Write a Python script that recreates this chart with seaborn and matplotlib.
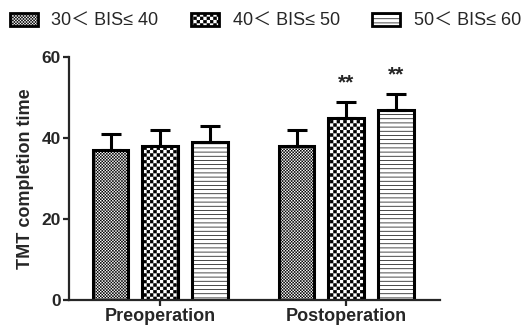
import warnings
import numpy as np
import pandas as pd
import matplotlib
matplotlib.use("Agg")
import matplotlib.pyplot as plt
import matplotlib.hatch as mhatch
from matplotlib.path import Path
from matplotlib.patches import Patch
import seaborn as sns

warnings.filterwarnings("ignore")

# data
phases = ["Preoperation", "Postoperation"]
groups = ["30＜ BIS≤ 40", "40＜ BIS≤ 50", "50＜ BIS≤ 60"]
mean_30_40 = [37, 38]
sd_30_40 = [4, 4]
mean_40_50 = [38, 45]
sd_40_50 = [4, 4]
mean_50_60 = [39, 47]
sd_50_60 = [4, 4]
stars_30_40 = ["", ""]
stars_40_50 = ["", "**"]
stars_50_60 = ["", "**"]

means = [mean_30_40, mean_40_50, mean_50_60]
sds = [sd_30_40, sd_40_50, sd_50_60]
stars = [stars_30_40, stars_40_50, stars_50_60]

df = pd.DataFrame({
    "phase": phases * 3,
    "group": [g for g in groups for _ in phases],
    "value": mean_30_40 + mean_40_50 + mean_50_60,
})

HATCH_LW = 0.5  # points


# checkerboard hatch, triggered by the letter 'c'
class CheckerHatch(mhatch.HatchPatternBase):
    def __init__(self, hatch, density):
        self.n = hatch.count("c") * density
        self.cells = [(i, j) for i in range(self.n) for j in range(self.n)
                      if (i + j) % 2 == 0]
        self.num_vertices = len(self.cells) * 5

    def set_vertices_and_codes(self, vertices, codes):
        s = 1.0 / self.n
        d = HATCH_LW / 72 / 2  # compensate the stroke around each square
        k = 0
        for i, j in self.cells:
            x0, y0 = i * s + d, j * s + d
            x1, y1 = (i + 1) * s - d, (j + 1) * s - d
            vertices[k:k + 5] = [(x0, y0), (x1, y0), (x1, y1), (x0, y1), (x0, y0)]
            codes[k:k + 5] = [Path.MOVETO, Path.LINETO, Path.LINETO,
                              Path.LINETO, Path.CLOSEPOLY]
            k += 5


mhatch._hatch_types.append(CheckerHatch)
hatches = ["c" * 11, "c" * 5, "----"]

sns.set_style("ticks")
plt.rcParams["font.family"] = ["Liberation Sans", "Noto Sans CJK SC", "DejaVu Sans"]
plt.rcParams["hatch.linewidth"] = HATCH_LW
plt.rcParams["hatch.color"] = "black"

fig = plt.figure(figsize=(5.31, 3.32), dpi=100)
ax = fig.add_axes([0.130, 0.0964, 0.699, 0.7316])

sns.barplot(data=df, x="phase", y="value", hue="group", order=phases,
            hue_order=groups, palette=["white"] * 3, edgecolor="black",
            linewidth=2.2, width=0.8, gap=0.28, errorbar=None, legend=False,
            ax=ax)

for cont, h, m, s, st in zip(ax.containers, hatches, means, sds, stars):
    xs = []
    for p in cont.patches:
        p.set_hatch(h)
        p.set_edgecolor("black")
        xs.append(p.get_x() + p.get_width() / 2)
    ax.errorbar(xs, m, yerr=[np.zeros(len(s)), s], fmt="none", ecolor="black",
                elinewidth=2.2, capsize=7, capthick=2.2, zorder=3)
    for x, mv, sv, t in zip(xs, m, s, st):
        if t:
            ax.text(x, mv + sv + 2.2, t, ha="center", va="bottom",
                    fontsize=15, fontweight="bold")

ax.set_ylim(0, 60)
ax.set_xlim(-0.49, 1.505)
ax.set_yticks([0, 20, 40, 60])
ax.set_xlabel("")
ax.set_ylabel("TMT completion time", fontsize=13, fontweight="bold", labelpad=5)
sns.despine(ax=ax)
for sp in ["left", "bottom"]:
    ax.spines[sp].set_linewidth(1.6)
ax.tick_params(axis="both", width=1.6, length=4, labelsize=12.5, pad=2)
for lab in ax.get_xticklabels() + ax.get_yticklabels():
    lab.set_fontweight("bold")
ax.tick_params(axis="x", labelsize=13)

handles = [Patch(facecolor="white", edgecolor="black", hatch=h, linewidth=2)
           for h in hatches]
fig.legend(handles, groups, loc="upper center", bbox_to_anchor=(0.5, 1.0),
           ncol=3, frameon=False, fontsize=13, handlelength=1.55,
           handleheight=0.8, handletextpad=0.75, columnspacing=1.8,
           borderaxespad=0.3)

fig.savefig("out.png", dpi=100)
